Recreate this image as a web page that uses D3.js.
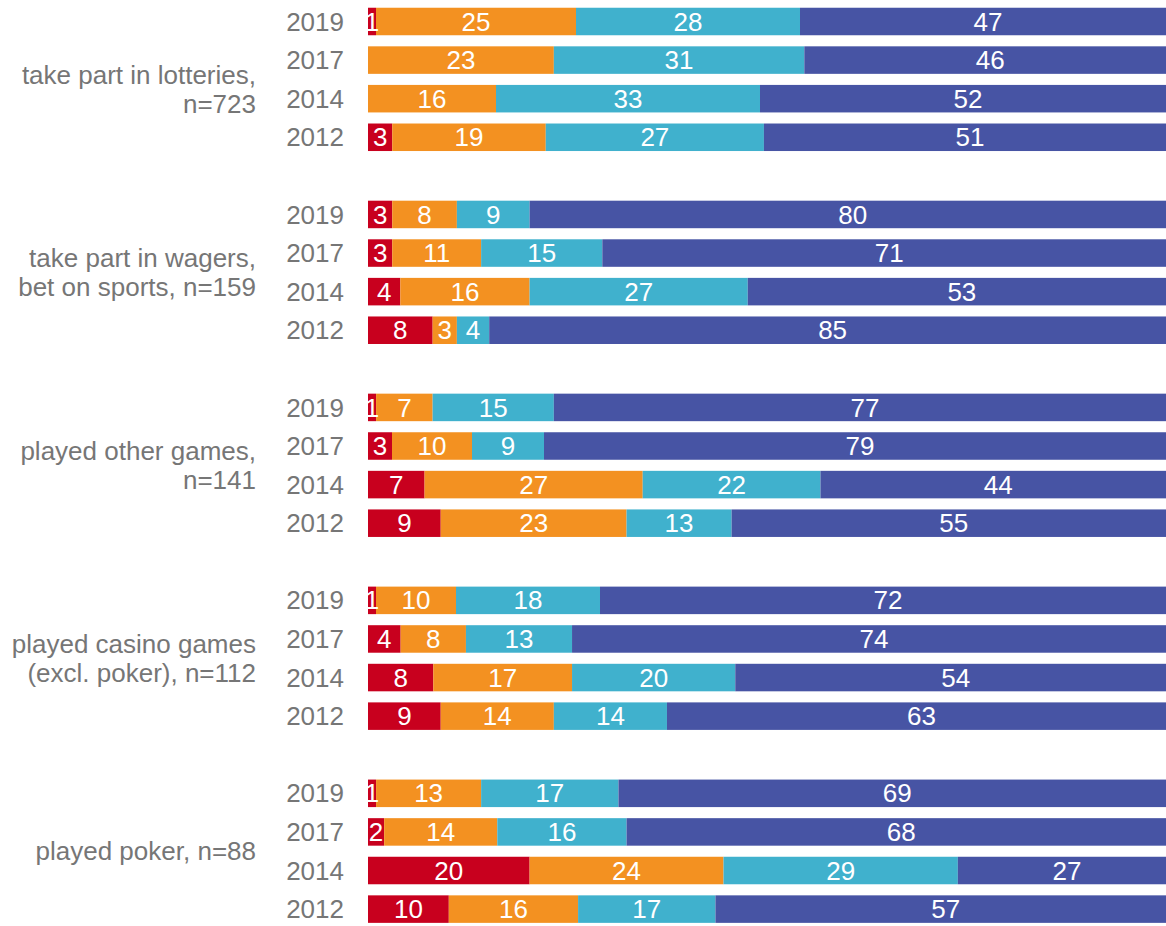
<!DOCTYPE html>
<html>
<head>
<meta charset="utf-8">
<script src="https://cdn.jsdelivr.net/npm/d3@7"></script>
<style>
  html, body { margin: 0; padding: 0; background: #ffffff; overflow: hidden; }
  svg { display: block; font-family: "Liberation Sans", Arial, sans-serif; }
</style>
</head>
<body>
<svg id="chart" width="1166" height="926"></svg>
<script>
// ---- data ----
const categories = [
  ["take part in lotteries,", "n=723"],
  ["take part in wagers,", "bet on sports, n=159"],
  ["played other games,", "n=141"],
  ["played casino games", "(excl. poker), n=112"],
  ["played poker, n=88"]
];
const years = ["2019", "2017", "2014", "2012"];
const seriesKeys = ["s1", "s2", "s3", "s4"];

const lotteries = [[1, 25, 28, 47], [0, 23, 31, 46], [0, 16, 33, 52], [3, 19, 27, 51]];
const wagers    = [[3, 8, 9, 80],   [3, 11, 15, 71], [4, 16, 27, 53], [8, 3, 4, 85]];
const otherGames = [[1, 7, 15, 77], [3, 10, 9, 79],  [7, 27, 22, 44], [9, 23, 13, 55]];
const casino    = [[1, 10, 18, 72], [4, 8, 13, 74],  [8, 17, 20, 54], [9, 14, 14, 63]];
const poker     = [[1, 13, 17, 69], [2, 14, 16, 68], [20, 24, 29, 27], [10, 16, 17, 57]];
const groupValues = [lotteries, wagers, otherGames, casino, poker];

const colors = ["#c8001e", "#f39121", "#40b1cd", "#4754a4"];

// ---- build rows ----
const rows = [];
groupValues.forEach((g, gi) => {
  g.forEach((vals, yi) => {
    const r = { slot: gi * 5 + yi, group: gi, year: years[yi] };
    seriesKeys.forEach((k, i) => r[k] = vals[i]);
    rows.push(r);
  });
});

const svg = d3.select("#chart");
const nSlots = categories.length * 5 - 1;

// full 100% width runs slightly past the right edge of the picture (cropped)
const x = d3.scaleLinear().domain([0, 1]).range([368, 1176]);
const y = d3.scaleBand().domain(d3.range(nSlots)).range([2.2, 928.4]).paddingInner(0.287).paddingOuter(0.1435);

const stack = d3.stack().keys(seriesKeys).offset(d3.stackOffsetExpand);
const series = stack(rows);

const textGray = "#767676";
const fontSize = 26;

const layers = svg.append("g").selectAll("g")
  .data(series).join("g")
  .attr("fill", (d, i) => colors[i]);

layers.selectAll("rect")
  .data(d => d.filter(p => p.data[d.key] > 0))
  .join("rect")
  .attr("x", p => x(p[0]))
  .attr("width", p => x(p[1]) - x(p[0]))
  .attr("y", p => y(p.data.slot))
  .attr("height", y.bandwidth());

// value labels
const labelG = svg.append("g")
  .attr("fill", "#ffffff")
  .attr("font-size", fontSize)
  .attr("text-anchor", "middle");
series.forEach(s => {
  s.forEach(p => {
    const v = p.data[s.key];
    if (v <= 0) return;
    labelG.append("text")
      .attr("x", (x(p[0]) + x(p[1])) / 2)
      .attr("y", y(p.data.slot) + y.bandwidth() / 2)
      .attr("dy", "0.35em")
      .text(v);
  });
});

// year labels
svg.append("g")
  .attr("fill", textGray)
  .attr("font-size", fontSize)
  .attr("text-anchor", "end")
  .selectAll("text")
  .data(rows).join("text")
  .attr("x", 344)
  .attr("y", d => y(d.slot) + y.bandwidth() / 2)
  .attr("dy", "0.35em")
  .text(d => d.year);

// category labels
const catG = svg.append("g")
  .attr("fill", textGray)
  .attr("font-size", fontSize)
  .attr("text-anchor", "end");
categories.forEach((lines, gi) => {
  const c = (y(gi * 5) + y(gi * 5 + 3) + y.bandwidth()) / 2;
  const lh = 29;
  const nudge = gi === 0 ? 10 : 0;
  const start = c - (lines.length - 1) * lh / 2 + nudge;
  lines.forEach((ln, li) => {
    catG.append("text")
      .attr("x", 256)
      .attr("y", start + li * lh)
      .attr("dy", "0.35em")
      .text(ln);
  });
});
</script>
</body>
</html>
